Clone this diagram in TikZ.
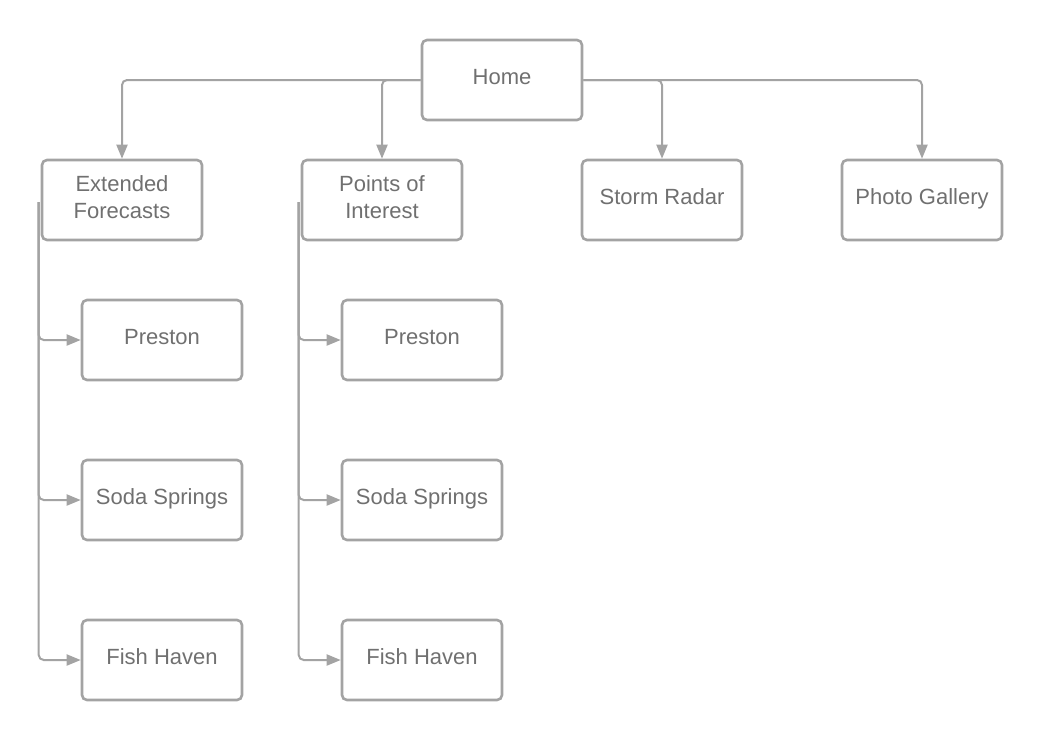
\documentclass[tikz,border=0pt]{standalone}
\usepackage{fontspec}
\setmainfont{Liberation Sans}
\usetikzlibrary{arrows.meta}
\definecolor{linegray}{HTML}{A3A3A3}
\definecolor{textgray}{HTML}{707070}
\begin{document}
\begin{tikzpicture}[x=1pt,y=-1pt,
  page/.style={draw=linegray, line width=2.6pt, rounded corners=5pt, fill=white,
    minimum width=160pt, minimum height=80pt, inner sep=0pt, align=center,
    text depth=6pt, text=textgray, font=\fontsize{22}{27}\selectfont},
  conn/.style={draw=linegray, line width=2pt, rounded corners=5pt,
    -{Triangle[length=14pt,width=11pt]}}]
\useasboundingbox (0,0) rectangle (1043,740);

% top level
\node[page] (home) at (502,80) {Home};
\node[page] (ef) at (122,200) {Extended\\Forecasts};
\node[page] (poi) at (382,200) {Points of\\Interest};
\node[page] (sr) at (662,200) {Storm Radar};
\node[page] (pg) at (922,200) {Photo Gallery};

% children of Extended Forecasts
\node[page] (efp) at (162,340) {Preston};
\node[page] (efs) at (162,500) {Soda Springs};
\node[page] (eff) at (162,660) {Fish Haven};

% children of Points of Interest
\node[page] (poip) at (422,340) {Preston};
\node[page] (pois) at (422,500) {Soda Springs};
\node[page] (poif) at (422,660) {Fish Haven};

% Home to the top-level pages
\draw[conn] (home.west) -| (ef.north);
\draw[conn] (home.west) -| (poi.north);
\draw[conn] (home.east) -| (sr.north);
\draw[conn] (home.east) -| (pg.north);

% trunk lines down the left side of each section
\coordinate (eft) at ([xshift=-2pt,yshift=-2pt]ef.west);
\coordinate (poit) at ([xshift=-2pt,yshift=-2pt]poi.west);
\foreach \c in {efp,efs,eff} \draw[conn] (eft) |- (\c.west);
\foreach \c in {poip,pois,poif} \draw[conn] (poit) |- (\c.west);
\end{tikzpicture}
\end{document}
